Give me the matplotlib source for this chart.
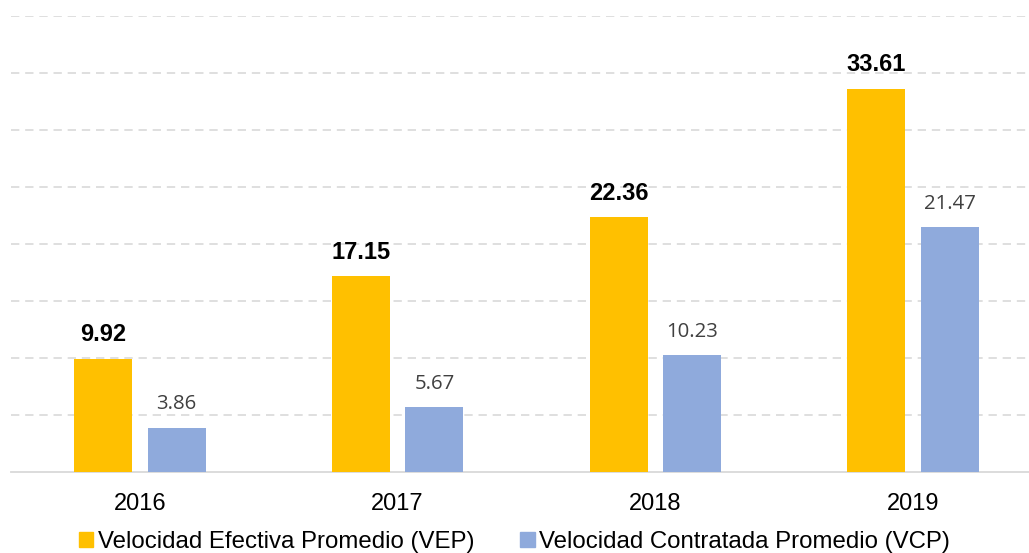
import matplotlib.pyplot as plt
from matplotlib.patches import Patch
import numpy as np

years = ["2016", "2017", "2018", "2019"]
vep = [9.92, 17.15, 22.36, 33.61]
vcp = [3.86, 5.67, 10.23, 21.47]

plt.rcParams['font.family'] = ['Liberation Sans', 'DejaVu Sans']

fig = plt.figure(figsize=(10.29, 5.53), dpi=100)
ax = fig.add_axes([11 / 1029, 81 / 553, 1031 / 1029, 456 / 553])

x = np.arange(len(years))
w = 0.225
off = 0.1426
b1 = ax.bar(x - off, vep, w, color="#FFC000", zorder=3)
b2 = ax.bar(x + off, vcp, w, color="#8FAADC", zorder=3)

for r, v in zip(b1, vep):
    ax.text(r.get_x() + r.get_width() / 2, v + 1.1, f"{v:.2f}", ha="center", va="bottom",
            fontsize=17, fontweight="bold", color="black")
for r, v in zip(b2, vcp):
    ax.text(r.get_x() + r.get_width() / 2, v + 1.2, f"{v:.2f}", ha="center", va="bottom",
            fontsize=14.7, color="#404040", family=["Open Sans", "DejaVu Sans"])

ax.set_xlim(-0.5, 3.5)
ax.set_ylim(0, 40)
ax.set_yticks(np.arange(5, 45, 5))
ax.yaxis.grid(True, color="#d9d9d9", linestyle=(0, (5, 3.5)), linewidth=1.2, zorder=0)
ax.set_axisbelow(True)
for s in ["top", "right", "left"]:
    ax.spines[s].set_visible(False)
ax.spines["bottom"].set_color("#d9d9d9")
ax.spines["bottom"].set_linewidth(1.3)
ax.tick_params(axis="y", left=False, labelleft=False)
ax.tick_params(axis="x", length=0, labelsize=17, pad=15)
ax.set_xticks(x)
ax.set_xticklabels(years)

handles = [Patch(color="#FFC000"), Patch(color="#8FAADC")]
fig.legend(handles, ["Velocidad Efectiva Promedio (VEP)", "Velocidad Contratada Promedio (VCP)"],
           loc="center", bbox_to_anchor=(0.5, 11 / 553), ncol=2, frameon=False, fontsize=17.3,
           handlelength=0.6, handleheight=0.6, handletextpad=0.2, columnspacing=1.9)

fig.savefig("out.png", dpi=100)
